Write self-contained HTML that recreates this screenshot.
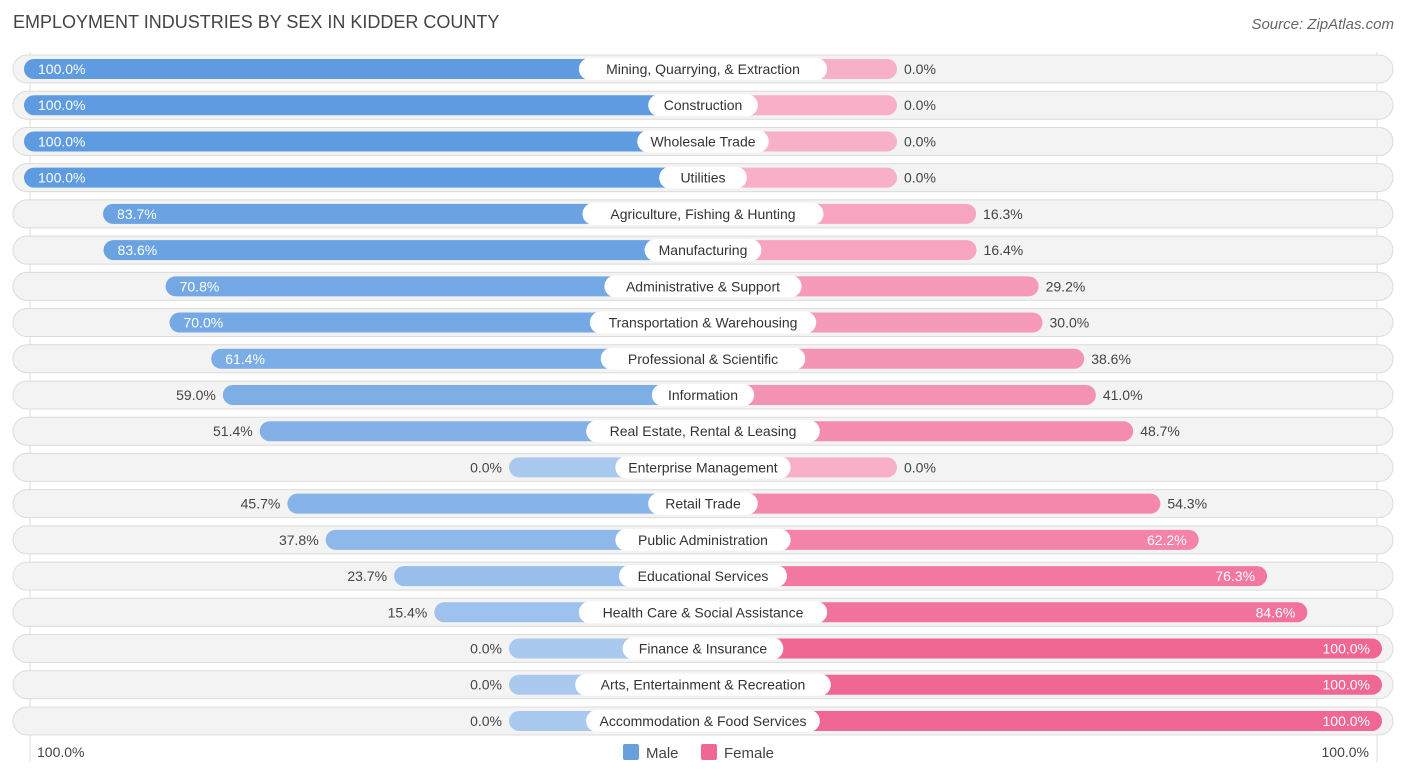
<!DOCTYPE html>
<html><head><meta charset="utf-8"><style>
body{margin:0;width:1406px;height:776px;background:#fff;font-family:"Liberation Sans",sans-serif;position:relative;overflow:hidden}
.t{position:absolute;white-space:nowrap}
</style></head><body>
<div class="t" style="left:13px;top:12px;font-size:18px;color:#444">EMPLOYMENT INDUSTRIES BY SEX IN KIDDER COUNTY</div>
<div class="t" style="right:12px;top:16px;font-size:15px;color:#666;font-style:italic">Source: ZipAtlas.com</div>
<svg id="chart" width="1406" height="776" style="position:absolute;left:0;top:0"></svg>
<script>
const categories=["Mining, Quarrying, & Extraction","Construction","Wholesale Trade","Utilities","Agriculture, Fishing & Hunting","Manufacturing","Administrative & Support","Transportation & Warehousing","Professional & Scientific","Information","Real Estate, Rental & Leasing","Enterprise Management","Retail Trade","Public Administration","Educational Services","Health Care & Social Assistance","Finance & Insurance","Arts, Entertainment & Recreation","Accommodation & Food Services"];
const male=[100,100,100,100,83.7,83.6,70.8,70.0,61.4,59.0,51.4,0,45.7,37.8,23.7,15.4,0,0,0];
const female=[0,0,0,0,16.3,16.4,29.2,30.0,38.6,41.0,48.7,0,54.3,62.2,76.3,84.6,100,100,100];
const NS="http://www.w3.org/2000/svg";
const svg=document.getElementById('chart');
const CX=703, MZ=509, FZ=897, K=4.85, Y0=69, DY=36.22;
function mx(v){return MZ-v*K;}
function fx(v){return FZ+v*K;}
function rowY(i){return Y0+i*DY;}
function mix(a,b,t){return 'rgb('+a.map((c,i)=>Math.round(c+(b[i]-c)*t)).join(',')+')';}
function mk(tag,attrs,name){const e=document.createElementNS(NS,tag);for(const k in attrs)e.setAttribute(k,attrs[k]);


svg.appendChild(e);return e;}
function txt(x,y,s,anchor,fill,name){const e=mk('text',{x:x,y:y,'text-anchor':anchor,fill:fill,'font-size':14,'font-family':'Liberation Sans, sans-serif'},name);e.textContent=s;return e;}
mk('line',{x1:30,x2:30,y1:52,y2:762,stroke:'#ddd'},'left-gridline');
mk('line',{x1:1377,x2:1377,y1:52,y2:762,stroke:'#ddd'},'right-gridline');
categories.forEach((c,i)=>{
 const y=rowY(i);
 mk('rect',{x:13,y:y-14,width:1380,height:28,rx:14,fill:'#f3f3f3',stroke:'#dcdcdc'},'row-background');
 const m=male[i],f=female[i];
 mk('rect',{x:mx(m),y:y-10,width:CX-mx(m),height:20,rx:10,fill:mix([170,201,239],[94,155,224],m/100)},'male-bar');
 mk('rect',{x:CX,y:y-10,width:fx(f)-CX,height:20,rx:10,fill:mix([247,176,200],[240,103,148],f/100)},'female-bar');
 const lw=c.length*7.3+22;
 mk('rect',{x:CX-lw/2,y:y-11,width:lw,height:22,rx:11,fill:'#fff'},'category-label-bg');
 txt(CX,y+5,c,'middle','#333','category-label');
 if(m>=60) txt(mx(m)+14,y+5,m.toFixed(1)+'%','start','#fff','male-value');
 else txt(mx(m)-7,y+5,m.toFixed(1)+'%','end','#444','male-value');
 if(f>=60) txt(fx(f)-12,y+5,f.toFixed(1)+'%','end','#fff','female-value');
 else txt(fx(f)+7,y+5,f.toFixed(1)+'%','start','#444','female-value');
});
txt(37,757,'100.0%','start','#444','axis-left-label');
txt(1369,757,'100.0%','end','#444','axis-right-label');
mk('rect',{x:623,y:744,width:16,height:16,rx:2,fill:'#6a9fdc'},'legend-male-swatch');
txt(646,758,'Male','start','#444','legend-male-label').setAttribute('font-size',15);
mk('rect',{x:701,y:744,width:16,height:16,rx:2,fill:'#f06794'},'legend-female-swatch');
txt(724,758,'Female','start','#444','legend-female-label').setAttribute('font-size',15);
</script>
</body></html>
